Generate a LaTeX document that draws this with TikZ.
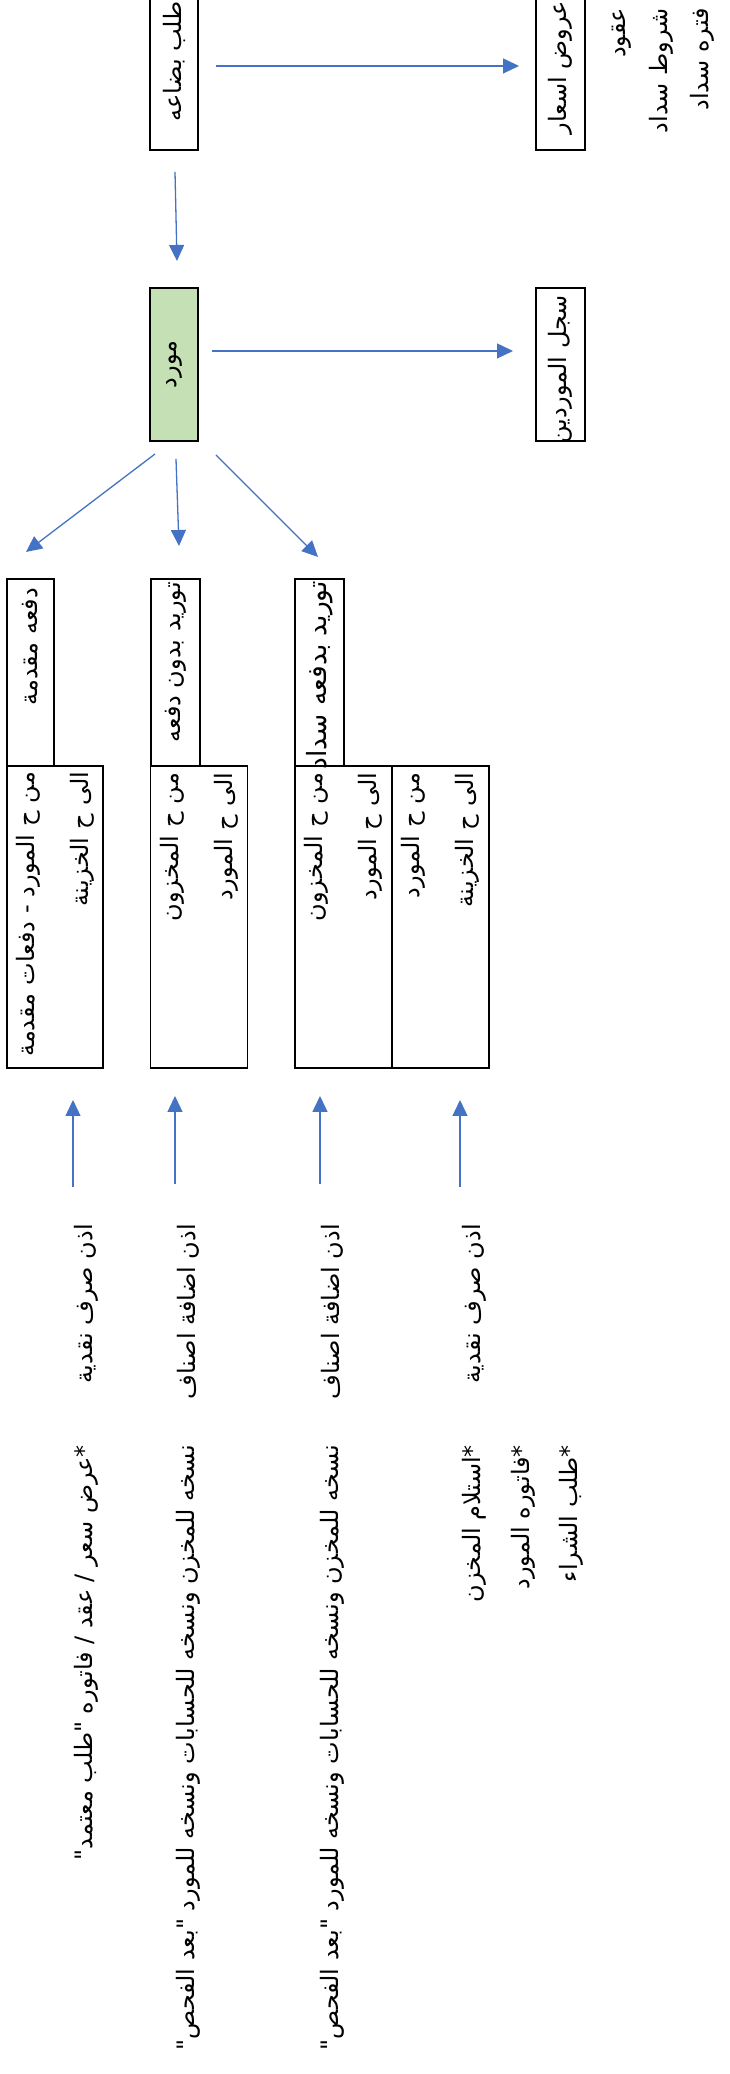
\documentclass[tikz,border=0pt]{standalone}
\usepackage{fontspec}
\usetikzlibrary{arrows.meta,calc}
\TeXXeTstate=1
\newfontfamily\arfont[Script=Arabic]{DejaVu Sans}
\definecolor{arrowblue}{HTML}{4472C4}
\definecolor{boxgreen}{HTML}{C5E0B4}
\newcommand{\AR}[1]{\beginR #1\endR}
\tikzset{
  every node/.style={font=\arfont\fontsize{24pt}{30pt}\selectfont},
  procbox/.style={draw=black, line width=1.6pt, rotate=90, inner sep=0pt},
  twoline/.style={procbox, align=right, font=\arfont\fontsize{24pt}{54pt}\selectfont},
  freetext/.style={rotate=90, anchor=east, inner sep=0pt},
  flow/.style={draw=arrowblue, line width=1.3pt, -{Triangle[width=15pt,length=16pt]}}
}
\begin{document}
\begin{tikzpicture}[x=1pt,y=1pt]
\useasboundingbox (0,0) rectangle (729,2074);
\clip (0,0) rectangle (729,2074);

% top row
\node[procbox, minimum width=158pt, minimum height=48pt] (req) at (174,2003) {\makebox[140pt][r]{\AR{طلب بضاعه}}};
\node[procbox, minimum width=158pt, minimum height=49pt] (offers) at (560.5,2003) {\makebox[140pt][r]{\AR{عروض اسعار}}};
\node[freetext] (t1) at (622,2066) {\AR{عقود}};
\node[freetext] (t2) at (661,2066) {\AR{شروط سداد}};
\node[freetext] (t3) at (702,2066) {\AR{فتره سداد}};

% second row
\node[procbox, fill=boxgreen, minimum width=153pt, minimum height=48pt] (sup) at (174,1709.5) {\AR{مورد}};
\node[procbox, minimum width=153pt, minimum height=49pt] (reg) at (560.5,1709.5) {\makebox[139pt][r]{\AR{سجل الموردين}}};

% small top boxes
\node[procbox, minimum width=187pt, minimum height=47pt] (k1) at (30.5,1401.5) {\makebox[169pt][r]{\AR{دفعه مقدمة}}};
\node[procbox, minimum width=187pt, minimum height=49pt] (k2) at (175.5,1401.5) {\makebox[181pt][r]{\AR{توريد بدون دفعه}}};
\node[procbox, minimum width=187pt, minimum height=49pt] (k3) at (319.5,1401.5) {\makebox[183pt][r]{\fontsize{26.5pt}{30pt}\selectfont\AR{توريد بدفعه سداد}}};

% account boxes
\node[twoline, text width=290pt, minimum width=302pt, minimum height=96pt] (b1) at (55,1157) {\mbox{\AR{من ح المورد - دفعات مقدمة}}\\\AR{الى ح الخزينة}};
\node[twoline, text width=288pt, minimum width=302pt, minimum height=97pt] (b2) at (199,1157) {\AR{من ح المخزون}\\\AR{الى ح المورد}};
\node[twoline, text width=288pt, minimum width=302pt, minimum height=97pt] (b3) at (343.5,1157) {\AR{من ح المخزون}\\\AR{الى ح المورد}};
\node[twoline, text width=288pt, minimum width=302pt, minimum height=97pt] (b4) at (440.5,1157) {\AR{من ح المورد}\\\AR{الى ح الخزينة}};

% documents
\node[freetext] (d1) at (86,850) {\AR{اذن صرف نقدية}};
\node[freetext] (d2) at (188,850) {\AR{اذن اضافة اصناف}};
\node[freetext] (d3) at (332,850) {\AR{اذن اضافة اصناف}};
\node[freetext] (d4) at (474,850) {\AR{اذن صرف نقدية}};

\node[freetext] (n1) at (86,629) {\AR{*عرض سعر / عقد / فاتوره "طلب معتمد"}};
\node[freetext] (n2) at (188,629) {\AR{نسخه للمخزن ونسخه للحسابات ونسخه للمورد "بعد الفحص"}};
\node[freetext] (n3) at (332,629) {\AR{نسخه للمخزن ونسخه للحسابات ونسخه للمورد "بعد الفحص"}};
\node[freetext] (m1) at (474,629) {\AR{*استلام المخزن}};
\node[freetext] (m2) at (523,629) {\AR{*فاتوره المورد}};
\node[freetext] (m3) at (571,629) {\AR{*طلب الشراء}};

% connector end points
\coordinate (a1s) at (216,2008); \coordinate (a1e) at (519,2008);
\coordinate (a2s) at (175,1902); \coordinate (a2e) at (177,1813);
\coordinate (a3s) at (212,1723); \coordinate (a3e) at (513,1723);
\coordinate (a4s) at (155,1620); \coordinate (a4e) at (26,1522);
\coordinate (a5s) at (176,1615); \coordinate (a5e) at (179,1528);
\coordinate (a6s) at (216,1619); \coordinate (a6e) at (318,1517);
\coordinate (u1s) at (73,887);  \coordinate (u1e) at (73,974);
\coordinate (u2s) at (175,890); \coordinate (u2e) at (175,978);
\coordinate (u3s) at (320,890); \coordinate (u3e) at (320,978);
\coordinate (u4s) at (460,887); \coordinate (u4e) at (460,974);

\draw[flow] (a1s) -- (a1e);
\draw[flow] (a2s) -- (a2e);
\draw[flow] (a3s) -- (a3e);
\draw[flow] (a4s) -- (a4e);
\draw[flow] (a5s) -- (a5e);
\draw[flow] (a6s) -- (a6e);
\draw[flow] (u1s) -- (u1e);
\draw[flow] (u2s) -- (u2e);
\draw[flow] (u3s) -- (u3e);
\draw[flow] (u4s) -- (u4e);
\end{tikzpicture}
\end{document}
